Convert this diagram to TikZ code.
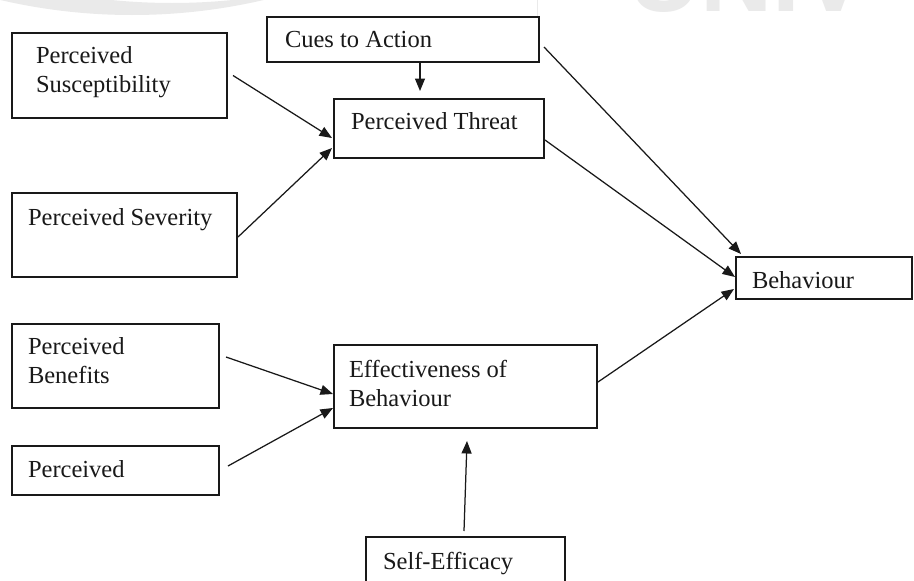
\documentclass[tikz,border=0pt]{standalone}
\usepackage{fontspec}
\setmainfont{Liberation Serif}
\setsansfont{Liberation Sans}
\usetikzlibrary{arrows.meta,calc}
\definecolor{wm}{RGB}{234,234,234}
\definecolor{ink}{RGB}{25,25,25}
\begin{document}
\begin{tikzpicture}[x=1pt,y=-1pt,
  box/.style={draw=ink,line width=1.6pt,inner sep=0pt,outer sep=0pt,anchor=center},
  lbl/.style={anchor=base west,inner sep=0pt,outer sep=0pt,align=left,text=ink,
    font=\fontsize{24.5}{29.5}\selectfont},
  conn/.style={draw=ink,line width=1.25pt,-{Triangle[length=12.5pt,width=10pt]}}]
\useasboundingbox (0,0) rectangle (914,581);
\clip (0,0) rectangle (914,581);
\fill[white] (0,0) rectangle (914,581);
% faint watermark
\begin{scope}
  \clip (0,0) rectangle (914,22);
  \fill[wm,even odd rule] (132,-565) circle[radius=580] (172,-597) circle[radius=600];
  \node[anchor=base west,inner sep=0pt,text=wm,font=\sffamily\bfseries\fontsize{100}{100}\selectfont] (wmtext) at (628,11) {UNIV};
\end{scope}
\draw[wm,line width=1pt] (537,0) -- (537,17);
% boxes
\node[box,minimum width=215pt,minimum height=85pt] (sus) at (119.5,75.5) {};
\node[box,minimum width=272pt,minimum height=45pt] (cues) at (403,39.5) {};
\node[box,minimum width=210pt,minimum height=59pt] (threat) at (439,128.5) {};
\node[box,minimum width=225pt,minimum height=84pt] (sev) at (124.5,235) {};
\node[box,minimum width=176pt,minimum height=42pt] (beh) at (824,278) {};
\node[box,minimum width=207pt,minimum height=84pt] (ben) at (115.5,366) {};
\node[box,minimum width=207pt,minimum height=49pt] (per) at (115.5,470.5) {};
\node[box,minimum width=263pt,minimum height=83pt] (eff) at (465.5,386.5) {};
\node[box,minimum width=199pt,minimum height=63pt] (self) at (465.5,568.5) {};
% labels (multi-line labels are placed by the baseline of their last line)
\node[lbl] (tsus) at (36,92.5) {Perceived\\Susceptibility};
\node[lbl] (tcues) at (285,47) {Cues to Action};
\node[lbl] (tthreat) at (351,129) {Perceived Threat};
\node[lbl] (tsev) at (28,225) {Perceived Severity};
\node[lbl] (tbeh) at (752,288) {Behaviour};
\node[lbl] (tben) at (28,383.5) {Perceived\\Benefits};
\node[lbl] (tper) at (28,477) {Perceived};
\node[lbl] (teff) at (349,406.5) {Effectiveness of\\Behaviour};
\node[lbl] (tself) at (383,569) {Self-Efficacy};
% connectors
\draw[conn] ([xshift=6pt]sus.east) -- ([xshift=-2pt,yshift=-9.5pt]threat.west);
\draw[conn] ([xshift=1pt,yshift=-2pt]sev.east) -- ([xshift=-2pt,yshift=-19.5pt]threat.west);
\draw[conn] ([xshift=17pt]cues.south) -- ([xshift=-19pt,yshift=8pt]threat.north);
\draw[conn] ([xshift=7pt,yshift=9pt]ben.east) -- ([xshift=-1pt,yshift=-7.5pt]eff.west);
\draw[conn] ([xshift=9pt,yshift=4.5pt]per.east) -- ([xshift=-1pt,yshift=-21.5pt]eff.west);
\draw[conn] ([xshift=-1.5pt,yshift=6pt]self.north) -- ([xshift=1.5pt,yshift=-13pt]eff.south);
\draw[conn] ([xshift=5pt,yshift=-7.5pt]cues.east) -- ([xshift=5pt,yshift=3pt]beh.north west);
\draw[conn] ([xshift=1pt,yshift=-11.5pt]threat.east) -- ([xshift=-1pt,yshift=1pt]beh.west);
\draw[conn] ([xshift=1pt,yshift=4.5pt]eff.east) -- ([xshift=-2pt,yshift=-11pt]beh.west);
\end{tikzpicture}
\end{document}
